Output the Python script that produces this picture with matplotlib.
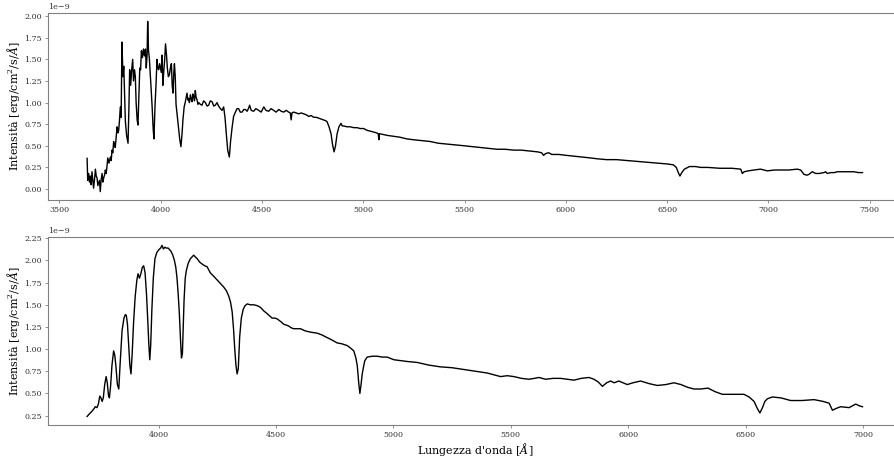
import numpy as np
import matplotlib
matplotlib.use("Agg")
import matplotlib.pyplot as plt

# spettro osservato (flusso in unità di 1e-9)
wl_oss = [3637, 3640, 3645, 3649, 3653, 3657, 3661, 3665, 3669, 3674, 3678, 3682, 3686, 3690, 3694, 3698,
          3702, 3706, 3711, 3715, 3719, 3723, 3727, 3731, 3735, 3739, 3745, 3752, 3756, 3760, 3764, 3768,
          3772, 3776, 3781, 3785, 3789, 3793, 3797, 3801, 3805, 3809, 3814, 3818, 3822, 3826, 3832, 3839,
          3843, 3847, 3852, 3857, 3862, 3866, 3871, 3875, 3879, 3884, 3888, 3893, 3897, 3901, 3905, 3910,
          3915, 3920, 3925, 3929, 3933, 3936, 3940, 3944, 3948, 3952, 3958, 3963, 3967, 3972, 3977, 3982,
          3986, 3990, 3995, 3999, 4003, 4007, 4011, 4015, 4020, 4024, 4029, 4033, 4038, 4043, 4048, 4053,
          4057, 4061, 4065, 4068, 4072, 4076, 4082, 4088, 4094, 4100, 4105, 4110, 4116, 4122, 4126, 4130,
          4134, 4138, 4142, 4147, 4151, 4155, 4159, 4163, 4167, 4171, 4175, 4180, 4184, 4188, 4196, 4204,
          4212, 4221, 4229, 4237, 4245, 4254, 4262, 4270, 4278, 4286, 4295, 4303, 4311, 4318, 4324, 4331,
          4339, 4345, 4352, 4360, 4369, 4377, 4385, 4393, 4402, 4410, 4418, 4427, 4435, 4439, 4447, 4459,
          4470, 4484, 4496, 4509, 4520, 4533, 4545, 4558, 4570, 4583, 4595, 4607, 4620, 4632, 4640, 4644,
          4648, 4657, 4670, 4681, 4694, 4706, 4718, 4731, 4743, 4755, 4768, 4780, 4793, 4805, 4815, 4821,
          4831, 4841, 4848, 4856, 4863, 4871, 4880, 4890, 4896, 4903, 4920, 4936, 4952, 4969, 4985, 5002,
          5018, 5035, 5050, 5065, 5074, 5077, 5080, 5100, 5120, 5150, 5180, 5215, 5249, 5290, 5330, 5370,
          5414, 5456, 5500, 5540, 5578, 5620, 5660, 5700, 5743, 5780, 5820, 5860, 5880, 5890, 5900, 5915,
          5930, 5965, 6000, 6040, 6080, 6120, 6154, 6200, 6250, 6300, 6350, 6400, 6450, 6500, 6530, 6545,
          6555, 6563, 6572, 6585, 6610, 6640, 6665, 6700, 6760, 6820, 6863, 6871, 6880, 6900, 6928, 6961,
          6994, 7030, 7060, 7100, 7142, 7159, 7175, 7190, 7200, 7216, 7225, 7233, 7250, 7274, 7282, 7290,
          7307, 7325, 7340, 7365, 7390, 7420, 7445, 7464]
fl_oss = [0.355, 0.10, 0.18, 0.08, 0.15, 0.05, 0.20, 0.10, 0.01, 0.12, 0.23, 0.15, 0.13, 0.04, 0.07, 0.10,
          -0.03, 0.10, 0.18, 0.08, 0.13, 0.16, 0.22, 0.18, 0.26, 0.36, 0.30, 0.37, 0.33, 0.45, 0.42, 0.55,
          0.50, 0.48, 0.62, 0.72, 0.65, 0.68, 0.80, 0.95, 0.83, 1.70, 1.30, 1.42, 1.10, 0.78, 0.62, 0.53,
          0.90, 1.38, 1.20, 1.38, 1.50, 1.25, 1.38, 1.30, 1.00, 0.80, 0.74, 1.10, 1.40, 1.38, 1.60, 1.52,
          1.62, 1.54, 1.62, 1.40, 1.55, 1.94, 1.60, 1.52, 1.35, 1.20, 0.95, 0.70, 0.58, 0.95, 1.20, 1.50,
          1.40, 1.38, 1.45, 1.40, 1.35, 1.55, 1.20, 1.35, 1.50, 1.68, 1.55, 1.40, 1.30, 1.32, 1.40, 1.45,
          1.20, 1.11, 1.35, 1.45, 1.30, 0.98, 0.85, 0.72, 0.58, 0.49, 0.62, 0.80, 0.95, 1.01, 1.06, 1.11,
          1.03, 1.05, 1.00, 1.09, 1.04, 1.01, 1.10, 1.07, 1.02, 1.14, 1.06, 1.03, 0.98, 1.00, 0.98, 0.97,
          1.02, 1.00, 0.96, 0.97, 1.02, 1.01, 0.96, 0.97, 1.00, 0.96, 0.93, 0.91, 0.95, 0.82, 0.64, 0.45,
          0.37, 0.55, 0.70, 0.84, 0.89, 0.93, 0.93, 0.89, 0.89, 0.92, 0.92, 0.90, 0.94, 0.97, 0.91, 0.90,
          0.93, 0.91, 0.89, 0.95, 0.91, 0.90, 0.93, 0.91, 0.89, 0.92, 0.90, 0.89, 0.91, 0.89, 0.88, 0.80,
          0.88, 0.89, 0.88, 0.87, 0.88, 0.87, 0.86, 0.84, 0.85, 0.83, 0.83, 0.82, 0.81, 0.80, 0.79, 0.78,
          0.72, 0.64, 0.52, 0.43, 0.50, 0.64, 0.72, 0.76, 0.73, 0.73, 0.72, 0.72, 0.71, 0.71, 0.70, 0.70,
          0.68, 0.67, 0.66, 0.65, 0.64, 0.57, 0.64, 0.63, 0.62, 0.61, 0.60, 0.58, 0.57, 0.56, 0.55, 0.53,
          0.52, 0.51, 0.50, 0.49, 0.48, 0.47, 0.46, 0.46, 0.45, 0.45, 0.44, 0.43, 0.42, 0.39, 0.41, 0.42,
          0.40, 0.40, 0.39, 0.38, 0.37, 0.36, 0.35, 0.34, 0.34, 0.33, 0.32, 0.31, 0.30, 0.29, 0.28, 0.25,
          0.19, 0.15, 0.19, 0.23, 0.26, 0.26, 0.25, 0.25, 0.24, 0.24, 0.23, 0.18, 0.20, 0.21, 0.22, 0.23,
          0.21, 0.22, 0.22, 0.22, 0.23, 0.22, 0.17, 0.16, 0.17, 0.20, 0.19, 0.18, 0.18, 0.19, 0.20, 0.18,
          0.19, 0.19, 0.20, 0.20, 0.20, 0.20, 0.19, 0.19]

# spettro di riferimento
wl_rif = [3695, 3705, 3716, 3725, 3730, 3737, 3743, 3749, 3754, 3759, 3764, 3770, 3776, 3781, 3786, 3790,
          3795, 3801, 3808, 3813, 3818, 3824, 3830, 3836, 3844, 3852, 3858, 3862, 3867, 3872, 3877, 3882,
          3887, 3893, 3900, 3907, 3912, 3918, 3924, 3930, 3936, 3942, 3948, 3953, 3958, 3962, 3966, 3971,
          3977, 3984, 3992, 4000, 4008, 4014, 4020, 4026, 4032, 4040, 4047, 4053, 4060, 4067, 4073, 4078,
          4083, 4088, 4093, 4097, 4101, 4104, 4108, 4113, 4118, 4126, 4135, 4142, 4149, 4156, 4164, 4175,
          4185, 4196, 4206, 4220, 4235, 4249, 4263, 4277, 4288, 4298, 4306, 4313, 4319, 4324, 4329, 4334,
          4339, 4345, 4352, 4360, 4368, 4377, 4390, 4405, 4420, 4434, 4448, 4462, 4475, 4483, 4495, 4505,
          4520, 4533, 4545, 4554, 4565, 4575, 4590, 4604, 4620, 4632, 4650, 4675, 4695, 4718, 4740, 4760,
          4780, 4803, 4818, 4831, 4840, 4846, 4852, 4857, 4862, 4867, 4871, 4878, 4888, 4910, 4931, 4952,
          4973, 5002, 5030, 5060, 5100, 5150, 5200, 5250, 5300, 5350, 5400, 5456, 5485, 5513, 5545, 5577,
          5600, 5620, 5648, 5680, 5712, 5740, 5769, 5800, 5833, 5854, 5872, 5890, 5908, 5925, 5940, 5960,
          5978, 5996, 6020, 6053, 6090, 6124, 6160, 6195, 6225, 6252, 6280, 6309, 6340, 6370, 6401, 6440,
          6470, 6493, 6515, 6536, 6550, 6561, 6572, 6582, 6593, 6614, 6650, 6692, 6740, 6792, 6830, 6856,
          6870, 6885, 6905, 6941, 6955, 6969, 6985, 6998]
fl_rif = [0.24, 0.27, 0.30, 0.33, 0.35, 0.34, 0.38, 0.47, 0.45, 0.41, 0.45, 0.60, 0.69, 0.62, 0.48, 0.45,
          0.58, 0.82, 0.98, 0.93, 0.80, 0.60, 0.55, 0.85, 1.21, 1.35, 1.39, 1.38, 1.28, 1.05, 0.82, 0.72,
          0.95, 1.30, 1.60, 1.78, 1.85, 1.80, 1.85, 1.92, 1.94, 1.86, 1.62, 1.35, 1.05, 0.88, 1.05, 1.45,
          1.80, 2.02, 2.09, 2.12, 2.14, 2.17, 2.13, 2.15, 2.14, 2.14, 2.12, 2.10, 2.06, 2.00, 1.92, 1.80,
          1.62, 1.40, 1.10, 0.90, 0.95, 1.20, 1.55, 1.80, 1.89, 1.97, 2.02, 2.04, 2.06, 2.04, 2.02, 1.98,
          1.96, 1.94, 1.93, 1.86, 1.82, 1.78, 1.74, 1.70, 1.66, 1.60, 1.53, 1.42, 1.22, 1.00, 0.82, 0.72,
          0.78, 1.14, 1.35, 1.45, 1.49, 1.51, 1.50, 1.50, 1.49, 1.47, 1.43, 1.40, 1.37, 1.35, 1.35, 1.34,
          1.31, 1.28, 1.27, 1.26, 1.24, 1.23, 1.23, 1.23, 1.21, 1.20, 1.19, 1.18, 1.16, 1.13, 1.10, 1.07,
          1.06, 1.04, 1.01, 0.98, 0.90, 0.81, 0.62, 0.50, 0.60, 0.72, 0.78, 0.87, 0.91, 0.92, 0.92, 0.91,
          0.91, 0.88, 0.87, 0.86, 0.85, 0.82, 0.80, 0.79, 0.77, 0.75, 0.73, 0.69, 0.70, 0.69, 0.67, 0.66,
          0.67, 0.68, 0.66, 0.67, 0.67, 0.66, 0.65, 0.67, 0.68, 0.66, 0.63, 0.58, 0.62, 0.64, 0.62, 0.64,
          0.62, 0.60, 0.62, 0.64, 0.61, 0.59, 0.60, 0.62, 0.60, 0.57, 0.55, 0.55, 0.56, 0.52, 0.49, 0.49,
          0.49, 0.49, 0.46, 0.41, 0.33, 0.28, 0.34, 0.41, 0.44, 0.46, 0.45, 0.42, 0.42, 0.43, 0.41, 0.39,
          0.31, 0.33, 0.35, 0.34, 0.36, 0.38, 0.36, 0.35]

plt.rcParams['font.family'] = 'serif'
plt.rcParams['mathtext.fontset'] = 'dejavuserif'

fig = plt.figure(figsize=(8.95, 4.59), dpi=100)
ax1 = fig.add_axes([0.054, 0.564, 0.953, 0.408])
ax2 = fig.add_axes([0.054, 0.074, 0.953, 0.410])

ylab = r'Intensità [erg/cm$^2$/s/$\AA$]'
for ax, wl, fl in [(ax1, wl_oss, fl_oss), (ax2, wl_rif, fl_rif)]:
    ax.plot(wl, np.array(fl) * 1e-9, color='black', lw=1.0)
    ax.set_ylabel(ylab, fontsize=8, labelpad=2)
    for s in ax.spines.values():
        s.set_color('#808080')
        s.set_linewidth(0.8)
    ax.tick_params(labelsize=5.8, colors='#808080', labelcolor='#333333',
                   length=2.5, width=0.6, pad=2)
    ax.yaxis.get_offset_text().set_fontsize(5.8)
    ax.yaxis.get_offset_text().set_color('#333333')

ax2.set_xlabel("Lungezza d'onda [$\\AA$]", fontsize=8, labelpad=1)

fig.savefig('out.png', dpi=100)
